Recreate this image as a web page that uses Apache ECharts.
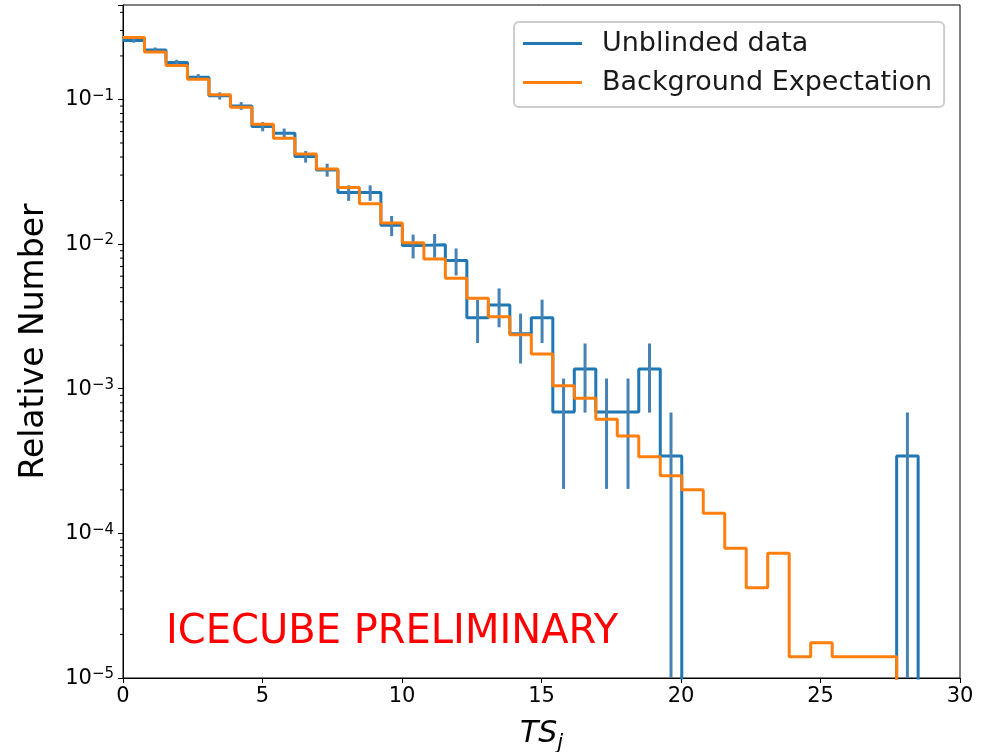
<!DOCTYPE html>
<html>
<head>
<meta charset="utf-8">
<title>Relative Number vs TS_j</title>
<script src="https://cdn.jsdelivr.net/npm/echarts@6.0.0/dist/echarts.min.js"></script>
<style>
html, body { margin: 0; padding: 0; background: #fff; }
#main { width: 989px; height: 752px; }
</style>
</head>
<body>
<div id="main"></div>
<script>
// histogram: 37 equal bins from 0 to 28.5
var binMax = 28.5;
var binCount = 37;

// unblinded data, relative number per bin (0 = empty bin)
var dataValues = [0.256, 0.220, 0.180, 0.1426, 0.106, 0.0903, 0.065, 0.0585, 0.0403, 0.0326,
	0.0227, 0.0227, 0.0135, 0.0098, 0.0099, 0.0077, 0.0031, 0.0038, 0.0024, 0.0031,
	0.00069, 0.00137, 0.00069, 0.00069, 0.00137, 0.000343, 0, 0, 0, 0,
	0, 0, 0, 0, 0, 0, 0.000343];
// error bar half-lengths for the data
var dataErrors = [0.00937, 0.00869, 0.00786, 0.00699, 0.00603, 0.00557, 0.00472, 0.00448, 0.00372, 0.00334,
	0.00279, 0.00279, 0.00215, 0.00183, 0.00184, 0.00163, 0.00103, 0.00114, 0.000907, 0.00103,
	0.000487, 0.000686, 0.000487, 0.000487, 0.000686, 0.000343, 0, 0, 0, 0,
	0, 0, 0, 0, 0, 0, 0.000343];
// background expectation per bin
var bgValues = [0.268, 0.213, 0.172, 0.138, 0.1076, 0.0885, 0.0675, 0.054, 0.0419, 0.033,
	0.0246, 0.019, 0.0140, 0.0102, 0.0079, 0.0058, 0.00423, 0.00315, 0.00236, 0.00174,
	0.00105, 0.00086, 0.000615, 0.000472, 0.000339, 0.00025, 0.0002, 0.000138, 0.000079, 0.000042,
	0.000073, 0.000014, 0.0000175, 0.000014, 0.000014, 0.000014, 0];

var yMin = 1e-5;
var yMax = 0.45;
var floorVal = 1e-7; // empty bins drop below the axis and get clipped
var minorMult = [2, 3, 4, 5, 6, 7, 8, 9];

var edges = [];
for (var i = 0; i <= binCount; i++) {
	edges.push(i * binMax / binCount);
}

function stepPoints(vals) {
	var pts = [];
	for (var i = 0; i < vals.length; i++) {
		var v = vals[i] > 0 ? vals[i] : floorVal;
		pts.push([edges[i], v]);
		pts.push([edges[i + 1], v]);
	}
	pts.push([edges[vals.length], floorVal]);
	return pts;
}

var errData = [];
for (var i = 0; i < dataValues.length; i++) {
	if (dataValues[i] > 0) {
		var lo = dataValues[i] - dataErrors[i];
		errData.push([(edges[i] + edges[i + 1]) / 2, lo > yMin ? lo : yMin, dataValues[i] + dataErrors[i]]);
	}
}

// log minor ticks 2..9 x 10^n
var minorTicks = [];
for (var e = -5; e <= -1; e++) {
	for (var k = 0; k < minorMult.length; k++) {
		var t = minorMult[k] * Math.pow(10, e);
		if (t < yMax) minorTicks.push([0, t]);
	}
}

var font = '"DejaVu Sans", "Liberation Sans", sans-serif';
var myChart = echarts.init(document.getElementById('main'));

var option = {
	animation: false,
	backgroundColor: '#fff',
	grid: {
		left: 123,
		right: 29,
		top: 5,
		bottom: 74,
		show: true,
		borderColor: '#000',
		borderWidth: 1,
		containLabel: false,
		outerBoundsMode: 'none'
	},
	legend: {
		orient: 'vertical',
		left: 514,
		top: 22,
		data: ['Unblinded data', 'Background Expectation'],
		icon: 'rect',
		itemWidth: 59,
		itemHeight: 3,
		itemGap: 8,
		padding: [6, 12, 9, 9],
		backgroundColor: 'rgba(255,255,255,0.8)',
		borderColor: '#cccccc',
		borderWidth: 2,
		borderRadius: 5,
		textStyle: {
			fontFamily: font,
			fontSize: 27,
			lineHeight: 31,
			color: '#1a1a1a',
			padding: [0, 0, 0, 15]
		}
	},
	xAxis: {
		type: 'value',
		min: 0,
		max: 30,
		interval: 5,
		name: '{i|TS}{s|j}',
		nameLocation: 'middle',
		nameGap: 41,
		nameTextStyle: {
			rich: {
				i: { fontFamily: font, fontStyle: 'italic', fontSize: 30, lineHeight: 34, verticalAlign: 'top', color: '#000' },
				s: { fontFamily: font, fontStyle: 'italic', fontSize: 21, lineHeight: 24, padding: [14, 0, 0, 0], verticalAlign: 'top', color: '#000' }
			}
		},
		axisLine: { lineStyle: { color: '#000', width: 1 } },
		axisTick: { length: 5, lineStyle: { color: '#000' } },
		axisLabel: { fontFamily: font, fontSize: 21, color: '#000', margin: 8 },
		splitLine: { show: false }
	},
	yAxis: {
		type: 'log',
		logBase: 10,
		min: yMin,
		max: yMax,
		name: 'Relative Number',
		nameLocation: 'middle',
		nameGap: 72,
		nameTextStyle: { fontFamily: font, fontSize: 33, color: '#000' },
		axisLine: { lineStyle: { color: '#000', width: 1 } },
		axisTick: { length: 5, lineStyle: { color: '#000' } },
		axisLabel: {
			margin: 9,
			formatter: function(v) {
				var p = Math.log(v) / Math.LN10;
				var n = Math.round(p);
				if (Math.abs(p - n) > 1e-6) return '';
				return '{b|10}{s|' + (n < 0 ? '\u2212' : '') + Math.abs(n) + '}';
			},
			rich: {
				b: { fontFamily: font, fontSize: 21, lineHeight: 22, padding: [7, 0, 0, 0], verticalAlign: 'bottom', color: '#000' },
				s: { fontFamily: font, fontSize: 15, lineHeight: 16, verticalAlign: 'top', color: '#000' }
			}
		},
		splitLine: { show: false },
		minorTick: { show: false }
	},
	series: [{
			name: 'Unblinded data',
			type: 'line',
			color: '#1f77b4',
			data: stepPoints(dataValues),
			showSymbol: false,
			symbol: 'none',
			clip: true,
			lineStyle: { width: 3, color: '#1f77b4' },
			z: 2
		}, {
			name: 'errors',
			type: 'custom',
			data: errData,
			clip: true,
			renderItem: function(params, api) {
				var p1 = api.coord([api.value(0), api.value(2)]);
				var p2 = api.coord([api.value(0), api.value(1)]);
				return {
					type: 'line',
					shape: { x1: p1[0], y1: p1[1], x2: p2[0], y2: p2[1] },
					style: { stroke: '#4682b4', lineWidth: 3 }
				};
			},
			z: 3
		}, {
			name: 'Background Expectation',
			type: 'line',
			color: '#ff7f0e',
			data: stepPoints(bgValues),
			showSymbol: false,
			symbol: 'none',
			clip: true,
			lineStyle: { width: 3, color: '#ff7f0e' },
			z: 4
		}, {
			name: 'minor ticks',
			type: 'custom',
			data: minorTicks,
			clip: false,
			silent: true,
			renderItem: function(params, api) {
				var p = api.coord([0, api.value(1)]);
				return {
					type: 'line',
					shape: { x1: p[0] - 3, y1: p[1], x2: p[0], y2: p[1] },
					style: { stroke: '#000', lineWidth: 1 }
				};
			},
			z: 5
		}
	],
	graphic: [{
		type: 'text',
		left: 166,
		top: 613,
		style: {
			text: 'ICECUBE PRELIMINARY',
			fill: '#ff0000',
			fontFamily: font,
			fontSize: 40
		}
	}]
};

myChart.setOption(option);

window.addEventListener('resize', function() {
	myChart.resize();
});
</script>
</body>
</html>
